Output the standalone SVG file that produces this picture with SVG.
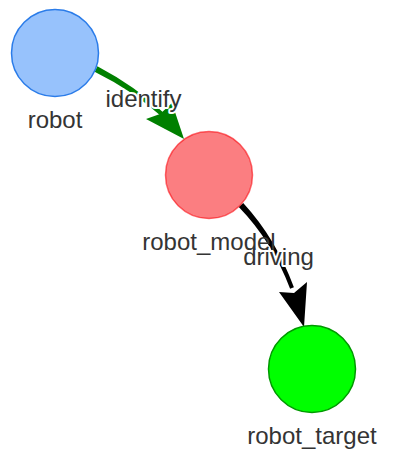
<svg xmlns="http://www.w3.org/2000/svg" width="405" height="463" viewBox="0 0 405 463">
<style>
.lbl{font-family:"Liberation Sans",Arial,sans-serif;font-size:24px;fill:#343434;text-anchor:middle}
.elbl{font-family:"Liberation Sans",Arial,sans-serif;font-size:24px;fill:#343434;text-anchor:middle;stroke:#fff;stroke-width:4px;paint-order:stroke;stroke-linejoin:round}
</style>
<rect width="405" height="463" fill="#fff"/>
<g id="connectors">
<g id="e-identify">
<path fill="#008000" d="M97.4,66.3 Q136.4,86.9 164.4,113.5 L161.6,116.5 Q133.6,91.1 94.6,71.7 Z"/>
<polygon fill="#008000" points="184,139 146,119 160,114 172,103"/>
<text class="elbl" x="143.5" y="107">identify</text>
</g>
<g id="e-driving">
<path fill="#000" d="M243.2,202.9 Q276.1,238.7 293.9,287.3 L290.1,288.7 Q271.9,241.3 238.8,207.1 Z"/>
<polygon fill="#000" points="304,327 279,292 294,293 307,282"/>
<text class="elbl" x="278.5" y="265">driving</text>
</g>
</g>
<g id="robot">
<circle cx="55" cy="53" r="43.5" fill="#97c2fc" stroke="#2b7ce9" stroke-width="1.5"/>
<text class="lbl" x="55" y="128">robot</text>
</g>
<g id="robot_model">
<circle cx="209" cy="175" r="43.5" fill="#fb7e81" stroke="#fa0a10" stroke-opacity="0.6" stroke-width="1.5"/>
<text class="lbl" x="209" y="250">robot_model</text>
</g>
<g id="robot_target">
<circle cx="312" cy="369" r="43.5" fill="#00ff00" stroke="#009900" stroke-width="1.5"/>
<text class="lbl" x="312" y="444">robot_target</text>
</g>
</svg>
